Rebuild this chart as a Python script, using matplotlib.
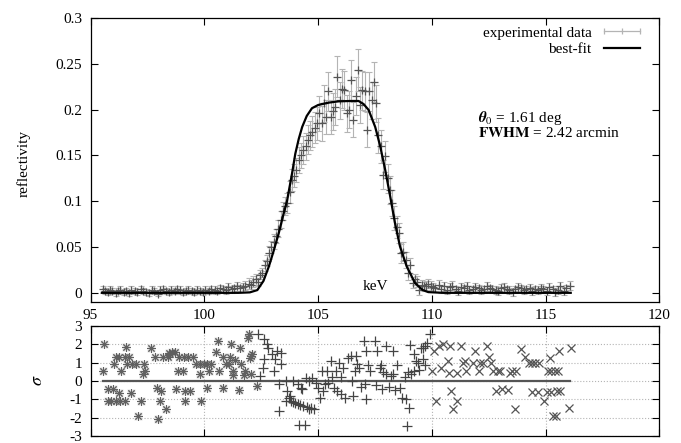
import matplotlib.pyplot as plt
from matplotlib.lines import Line2D
from matplotlib.ticker import FuncFormatter, MultipleLocator

plt.rcParams["font.family"] = ["Liberation Serif", "DejaVu Serif"]
plt.rcParams["mathtext.fontset"] = "stix"
plt.rcParams["axes.unicode_minus"] = False
plt.rcParams["font.size"] = 11

# measured reflectivity (energy in keV, value, 1-sigma error)
e_data = [
    95.55, 95.65, 95.75, 95.85, 95.95, 96.1, 96.2, 96.3, 96.45, 96.55,
    96.7, 96.8, 96.95, 97.05, 97.2, 97.3, 97.45, 97.55, 97.7, 97.8,
    97.95, 98.05, 98.2, 98.3, 98.45, 98.55, 98.7, 98.8, 98.95, 99.05,
    99.2, 99.3, 99.45, 99.55, 99.7, 99.8, 99.95, 100.05, 100.2, 100.3,
    100.45, 100.55, 100.7, 100.8, 100.95, 101.05, 101.2, 101.3, 101.45, 101.55,
    101.7, 101.8, 101.95, 102.05, 102.15, 102.25,
    102.35, 102.45, 102.55, 102.65, 102.75, 102.85, 102.95, 103.05, 103.15, 103.25,
    103.35, 103.45, 103.55, 103.65, 103.75, 103.85, 103.95, 104.05, 104.15, 104.25,
    104.35, 104.45, 104.55, 104.65, 104.75, 104.85, 104.95,
    105.05, 105.15, 105.25, 105.35, 105.45, 105.55, 105.65, 105.75, 105.85, 105.95,
    106.05, 106.15, 106.25, 106.35, 106.45, 106.55, 106.65, 106.75, 106.85, 106.95,
    107.05, 107.15, 107.25, 107.35, 107.45, 107.55,
    107.65, 107.75, 107.85, 107.95, 108.05, 108.15, 108.25, 108.35, 108.45, 108.55,
    108.65, 108.75, 108.85, 108.95, 109.05, 109.15, 109.25, 109.35, 109.45, 109.55,
    109.65, 109.75, 109.85,
    109.95, 110.05, 110.15, 110.3, 110.4, 110.55, 110.65, 110.8, 110.9, 111.05,
    111.15, 111.3, 111.4, 111.55, 111.65, 111.8, 111.9, 112.05, 112.15, 112.3,
    112.4, 112.55, 112.65, 112.8, 112.9, 113.05, 113.15, 113.3, 113.4, 113.55,
    113.65, 113.8, 113.9, 114.05, 114.15, 114.3, 114.4, 114.55, 114.65, 114.8,
    114.9, 115.05, 115.15, 115.3, 115.4, 115.55, 115.65, 115.8, 115.9, 116.05,
]
r_data = [
    0.004, 0.002, 0.001, 0.003, 0.002, 0.000, 0.002, 0.003, 0.001, 0.002,
    0.000, 0.003, 0.002, 0.001, 0.004, 0.002, 0.001, 0.000, 0.003, 0.002,
    -0.001, 0.003, 0.004, 0.002, 0.001, 0.003, 0.002, 0.004, 0.003, 0.001,
    0.002, 0.003, 0.002, 0.001, 0.003, 0.002, 0.001, 0.003, 0.002, 0.004,
    0.003, 0.002, 0.005, 0.004, 0.003, 0.006, 0.004, 0.005, 0.007, 0.005,
    0.006, 0.008, 0.010, 0.009, 0.012, 0.015,
    0.012, 0.020, 0.022, 0.030, 0.035, 0.044, 0.050, 0.056, 0.062, 0.070,
    0.080, 0.089, 0.095, 0.098, 0.110, 0.123, 0.128, 0.134, 0.145, 0.150,
    0.156, 0.160, 0.167, 0.172, 0.176, 0.180, 0.185,
    0.196, 0.185, 0.207, 0.192, 0.220, 0.192, 0.198, 0.203, 0.236, 0.210,
    0.223, 0.221, 0.196, 0.200, 0.232, 0.189, 0.215, 0.243, 0.205, 0.221,
    0.220, 0.178, 0.220, 0.210, 0.230, 0.207,
    0.172, 0.160, 0.129, 0.149, 0.125, 0.112, 0.098, 0.082, 0.072, 0.065,
    0.043, 0.045, 0.036, 0.022, 0.030, 0.011, 0.015, 0.012, 0.003, 0.009,
    0.007, 0.008, 0.010,
    0.008, 0.006, 0.005, 0.009, 0.004, 0.007, 0.003, 0.006, 0.008, 0.004,
    0.002, 0.006, 0.005, 0.007, 0.003, 0.004, 0.006, 0.005, 0.003, 0.004,
    0.007, 0.005, 0.004, 0.003, 0.002, 0.005, 0.006, 0.004, 0.003, 0.001,
    0.004, 0.006, 0.005, 0.003, 0.004, 0.005, 0.002, 0.004, 0.003, 0.005,
    0.004, 0.002, 0.006, 0.004, 0.001, 0.003, 0.007, 0.002, 0.005, 0.008,
]
err_data = [
    0.004, 0.003, 0.003, 0.004, 0.003, 0.003, 0.003, 0.004, 0.003, 0.003,
    0.003, 0.004, 0.003, 0.003, 0.004, 0.003, 0.003, 0.003, 0.004, 0.003,
    0.003, 0.004, 0.004, 0.003, 0.003, 0.004, 0.003, 0.004, 0.004, 0.003,
    0.003, 0.004, 0.003, 0.003, 0.004, 0.003, 0.003, 0.004, 0.003, 0.004,
    0.004, 0.003, 0.004, 0.004, 0.004, 0.005, 0.004, 0.004, 0.005, 0.004,
    0.005, 0.005, 0.006, 0.005, 0.006, 0.006,
    0.004, 0.005, 0.005, 0.006, 0.006, 0.007, 0.007, 0.008, 0.008, 0.009,
    0.009, 0.010, 0.010, 0.011, 0.012, 0.012, 0.013, 0.013, 0.014, 0.014,
    0.015, 0.015, 0.016, 0.016, 0.017, 0.017, 0.018,
    0.019, 0.019, 0.020, 0.019, 0.021, 0.019, 0.020, 0.020, 0.022, 0.020,
    0.021, 0.021, 0.020, 0.020, 0.022, 0.019, 0.021, 0.023, 0.020, 0.021,
    0.021, 0.019, 0.021, 0.020, 0.022, 0.020,
    0.019, 0.018, 0.016, 0.017, 0.016, 0.015, 0.014, 0.013, 0.012, 0.011,
    0.010, 0.010, 0.009, 0.008, 0.008, 0.006, 0.006, 0.006, 0.005, 0.005,
    0.005, 0.005, 0.005,
    0.005, 0.005, 0.004, 0.005, 0.004, 0.005, 0.004, 0.005, 0.005, 0.004,
    0.004, 0.005, 0.004, 0.005, 0.004, 0.004, 0.005, 0.004, 0.004, 0.004,
    0.005, 0.004, 0.004, 0.004, 0.004, 0.005, 0.005, 0.004, 0.004, 0.004,
    0.004, 0.005, 0.004, 0.004, 0.004, 0.005, 0.004, 0.004, 0.004, 0.005,
    0.004, 0.004, 0.005, 0.004, 0.004, 0.004, 0.005, 0.004, 0.004, 0.005,
]

# best-fit curve
fit_e = [95.5, 101.5, 102.0, 102.33, 102.6, 102.84, 103.05, 103.27, 103.45, 103.64,
         103.86, 104.0, 104.15, 104.3, 104.5, 104.73, 105.0, 105.46, 105.9, 106.4,
         106.78, 107.0, 107.22, 107.51, 107.73, 107.95, 108.17, 108.38, 108.6, 108.89,
         109.26, 109.6, 109.84, 110.5, 116.1]
fit_r = [0.0, 0.0, 0.0005, 0.003, 0.013, 0.029, 0.046, 0.065, 0.083, 0.101,
         0.131, 0.152, 0.168, 0.181, 0.193, 0.2015, 0.205, 0.2076, 0.209, 0.2094,
         0.2094, 0.206, 0.1996, 0.181, 0.16, 0.134, 0.105, 0.076, 0.0505, 0.029,
         0.0106, 0.003, 0.0008, 0.0, 0.0]

# residuals (sigma), three data sets
res_e_a = [95.57, 95.61, 95.76, 95.76, 95.9, 95.98, 96.05, 96.1, 96.1, 96.27,
           96.27, 96.3, 96.35, 96.5, 96.5, 96.55, 96.62, 96.7, 96.8, 96.83,
           96.98, 97.07, 97.24, 97.3, 97.35, 97.38, 97.66, 97.83, 97.9, 97.95,
           98.05, 98.1, 98.2, 98.31, 98.4, 98.45, 98.5, 98.6, 98.7, 98.75,
           98.84, 98.9, 99.05, 99.1, 99.15, 99.15, 99.3, 99.37, 99.5, 99.65,
           99.8, 99.8, 99.87, 100.0, 100.1, 100.1, 100.2, 100.3, 100.5, 100.62,
           100.65, 100.8, 100.8, 100.95, 101.1, 101.15, 101.16, 101.25, 101.28, 101.35,
           101.52, 101.55, 101.6, 101.73, 101.8, 101.9, 101.96, 102.0, 102.05, 102.05,
           102.1, 102.3]
res_a = [0.55, 2.03, -0.45, -1.09, -1.09, -0.45, 0.95, 1.31, -1.09, 1.31,
         -0.64, -1.09, 0.55, 1.31, -1.09, 1.85, 0.95, 1.31, -0.64, 0.95,
         0.95, -1.91, -1.09, 0.4, 0.95, 0.55, 1.82, 1.31, -0.4, -2.09,
         -1.09, -0.55, 1.3, -1.55, 1.3, 1.55, 1.45, 1.6, 1.6, -0.45,
         0.55, 1.3, 0.55, 1.3, -0.55, -1.09, 1.3, -0.55, 1.3, 0.95,
         0.95, 0.4, -1.09, 0.95, 0.95, -0.36, 0.55, 0.95, 1.6, 2.2,
         0.55, -0.36, 1.3, 0.95, 0.95, 1.3, 2.0, 0.55, 0.35, 1.15,
         -0.5, 1.8, 0.95, 0.35, 0.55, 2.37, 2.55, 1.25, 1.35, 0.4,
         1.45, -0.27]

res_e_b = [102.37, 102.45, 102.58, 102.62, 102.62, 102.76, 102.8, 102.98, 103.05, 103.12,
           103.2, 103.27, 103.3, 103.35, 103.35, 103.57, 103.57, 103.65, 103.7, 103.75,
           103.8, 103.9, 103.9, 104.0, 104.1, 104.1, 104.15, 104.2, 104.25, 104.3,
           104.35, 104.44, 104.45, 104.5, 104.6, 104.6, 104.7, 104.75, 104.8, 104.9,
           105.0, 105.1, 105.15, 105.2, 105.3, 105.4, 105.45, 105.56, 105.6, 105.7,
           105.8, 105.85, 105.9, 106.0, 106.0, 106.1, 106.2, 106.3, 106.43, 106.5,
           106.55, 106.6, 106.65, 106.7, 106.8, 106.9, 107.0, 107.05, 107.1, 107.1,
           107.2, 107.3, 107.5, 107.55, 107.6, 107.7, 107.75, 107.8, 107.85, 108.0,
           108.0, 108.1, 108.2, 108.3, 108.3, 108.4, 108.45, 108.6, 108.7, 108.8,
           108.85, 108.9, 108.95, 109.0, 109.04, 109.1, 109.2, 109.2, 109.3, 109.4,
           109.45, 109.5, 109.6, 109.6, 109.7, 109.7, 109.8, 109.9]
res_b = [2.55, 0.25, 0.73, 2.27, 1.18, 2.0, 1.82, 1.45, 0.55, 1.2,
         1.64, -0.18, -1.64, 0.91, 1.55, 0.0, -1.09, -0.55, -0.9, -0.8,
         -1.09, -1.15, 0.0, -1.2, -1.25, -0.18, -2.4, -1.3, -0.36, -0.45,
         -1.35, -2.4, 0.18, -1.4, -1.5, 0.0, -1.45, 0.18, -1.55, -0.1,
         -0.36, -0.9, 0.55, -0.55, -0.18, 0.55, -0.1, 1.1, 0.2, -0.4,
         0.55, -0.55, 1.0, -0.7, 0.2, 0.7, -0.9, 1.27, 1.36, 0.0,
         -0.82, 0.55, 1.36, 0.91, 0.73, -0.3, 2.2, -0.18, 1.64, -1.0,
         0.9, 0.55, 2.18, -0.2, 1.64, 0.73, 0.9, -0.45, 0.5, 1.91,
         0.4, -0.3, 0.3, 1.64, 0.36, -0.5, 0.9, -0.36, -0.9, 0.2,
         -1.0, -2.45, 0.5, -1.45, 1.96, 0.4, 0.55, 1.45, 1.1, 1.0,
         0.6, 1.8, 1.8, 1.2, 1.9, 0.9, 2.1, 2.55]

res_e_c = [110.0, 110.1, 110.2, 110.3, 110.4, 110.5, 110.7, 110.75, 110.8, 110.86,
           110.94, 111.1, 111.1, 111.3, 111.35, 111.45, 111.5, 111.8, 111.9, 112.05,
           112.1, 112.25, 112.4, 112.5, 112.6, 112.7, 112.8, 112.9, 113.0, 113.1,
           113.35, 113.45, 113.5, 113.64, 113.7, 113.9, 114.1, 114.25, 114.4, 114.4,
           114.55, 114.65, 114.7, 114.94, 115.05, 115.1, 115.2, 115.25, 115.25, 115.3,
           115.4, 115.45, 115.5, 115.55, 115.6, 115.65, 116.04, 116.1]
res_c = [0.55, 1.64, -1.09, 1.9, 0.73, 2.0, 1.1, 0.45, 1.9, -0.55,
         -1.55, -1.09, 0.45, 1.9, 1.0, 1.1, 0.55, 1.0, 1.64, 0.55,
         1.0, 1.0, 1.9, 1.3, 1.0, 0.55, -0.55, 0.55, 0.55, -0.45,
         -0.5, 0.45, 0.55, -1.55, 0.55, 1.75, 1.3, 1.0, 1.0, -0.6,
         1.0, -0.6, 1.0, -1.09, -0.6, 0.55, 1.27, 0.55, -0.6, -1.91,
         0.55, -1.91, -0.55, 0.55, 1.64, -0.55, -1.45, 1.82]

fig = plt.figure(figsize=(6.81, 4.43), dpi=100)
ax = fig.add_axes([0.1329, 0.3183, 0.8355, 0.6411])
rax = fig.add_axes([0.1329, 0.0158, 0.8355, 0.2483])

ax.errorbar(e_data, r_data, yerr=err_data, fmt="none", ecolor="#b4b4b4",
            elinewidth=0.8, capsize=2.2, capthick=0.8, zorder=2)
ax.plot(e_data, r_data, ls="none", marker="+", ms=6, mew=0.9, color="#555555", zorder=3)
ax.plot(fit_e, fit_r, color="black", lw=1.6, zorder=4)

ax.set_xlim(95, 120)
ax.set_ylim(-0.01, 0.3)
ax.xaxis.set_major_locator(MultipleLocator(5))
ax.yaxis.set_major_locator(MultipleLocator(0.05))
ax.yaxis.set_major_formatter(FuncFormatter(lambda v, _: "%g" % round(v, 3)))
ax.tick_params(direction="in", top=True, right=True, length=5, width=0.8, pad=6)
ax.tick_params(axis="x", pad=5)
for s in ax.spines.values():
    s.set_linewidth(0.9)

handles = [
    Line2D([], [], color="#b4b4b4", lw=0.9, marker="|", ms=5, mew=0.9),
    Line2D([], [], color="black", lw=1.6),
]
ax.legend(handles, ["experimental data", "best-fit"], loc="upper right",
          bbox_to_anchor=(645 / 681, 1 - 26 / 443), bbox_transform=fig.transFigure,
          frameon=False, markerfirst=False, numpoints=3, handlelength=3.0,
          handletextpad=0.5, labelspacing=0.2, borderpad=0, borderaxespad=0)

ax.text(0.5, 0.03, "keV", transform=ax.transAxes, ha="center", va="bottom")
fig.text(478 / 681, 1 - 118 / 443, r"$\mathbfit{\theta}_0$ = 1.61 deg", va="center")
fig.text(478 / 681, 1 - 133 / 443, r"$\mathbf{FWHM}$ = 2.42 arcmin", va="center")
fig.text(24 / 681, 1 - 163 / 443, "reflectivity", rotation=90, ha="center", va="center")

rax.plot([e_data[0], e_data[-1]], [0, 0], color="#555555", lw=1.6, zorder=2)
rax.plot(res_e_a, res_a, ls="none", marker="s", ms=6, mec="none", color="#e0e0e0", zorder=2)
rax.plot(res_e_a, res_a, ls="none", marker=(8, 2, 0), ms=6, mew=0.7, color="#606060", zorder=3)
rax.plot(res_e_b, res_b, ls="none", marker="+", ms=7, mew=0.9, color="#444444", zorder=3)
rax.plot(res_e_c, res_c, ls="none", marker="x", ms=6, mew=0.9, color="#555555", zorder=3)

rax.set_xlim(95, 120)
rax.set_ylim(-3, 3)
rax.xaxis.set_major_locator(MultipleLocator(5))
rax.yaxis.set_major_locator(MultipleLocator(1))
rax.grid(True, color="#b4b4b4", ls=":", lw=0.8)
rax.tick_params(direction="in", top=True, right=True, length=5, width=0.8, pad=6,
                labelbottom=False)
for s in rax.spines.values():
    s.set_linewidth(0.9)
fig.text(38 / 681, 1 - 380 / 443, r"$\sigma$", rotation=90, ha="center", va="center",
         fontsize=13)

fig.savefig("out.png", dpi=100)
